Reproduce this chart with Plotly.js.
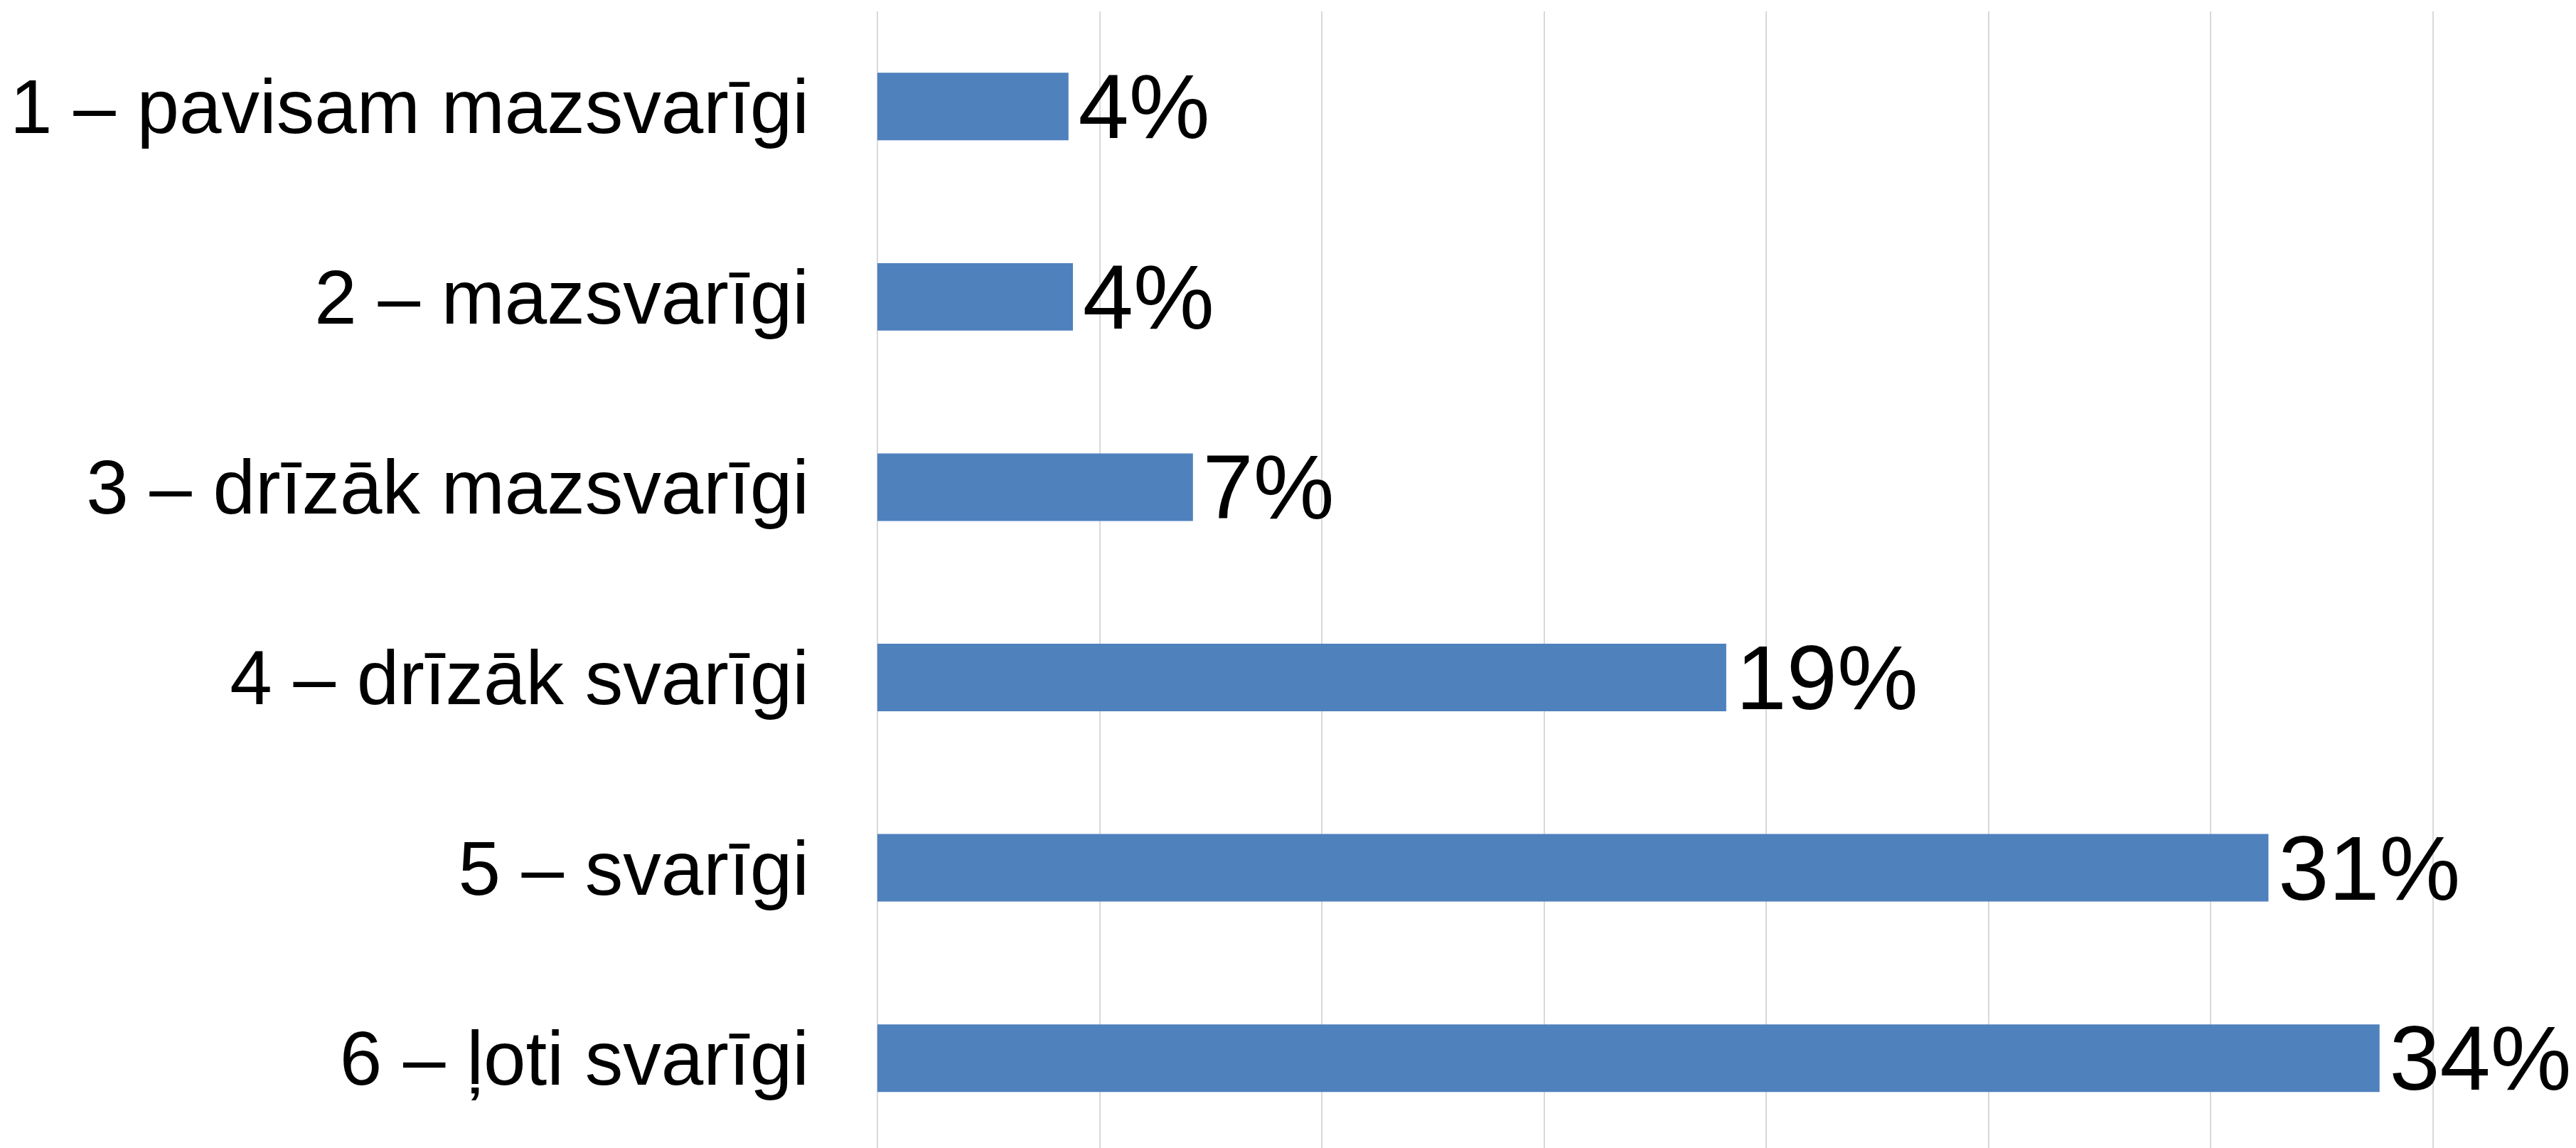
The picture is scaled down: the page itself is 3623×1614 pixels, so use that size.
<!DOCTYPE html>
<html>
<head>
<meta charset="utf-8">
<script src="https://cdn.plot.ly/plotly-3.0.1.min.js"></script>
<style>html,body{margin:0;padding:0;background:#fff;}#chart{width:3623px;height:1614px;}</style>
</head>
<body>
<div id="chart"></div>
<script>
const categories = [
  "1 – pavisam mazsvarīgi",
  "2 – mazsvarīgi",
  "3 – drīzāk mazsvarīgi",
  "4 – drīzāk svarīgi",
  "5 – svarīgi",
  "6 – ļoti svarīgi"
];
const values = [4.3, 4.4, 7.1, 19.1, 31.3, 33.8];
const valueLabels = ["4%", "4%", "7%", "19%", "31%", "34%"];

const trace = {
  type: "bar",
  orientation: "h",
  x: values,
  y: categories,
  text: valueLabels,
  texttemplate: "\u200a%{text}",
  textposition: "outside",
  constraintext: "none",
  cliponaxis: false,
  textfont: {family: "Liberation Sans, Arial, sans-serif", size: 128, color: "#000"},
  marker: {color: "#4f81bd"},
  hoverinfo: "skip"
};

const layout = {
  width: 3623,
  height: 1614,
  margin: {l: 1234, r: 0, t: 16, b: 0, pad: 0},
  paper_bgcolor: "#ffffff",
  plot_bgcolor: "#ffffff",
  showlegend: false,
  bargap: 0.645,
  xaxis: {
    range: [0, 38.22],
    dtick: 5,
    tick0: 0,
    showgrid: true,
    gridcolor: "#d9d9d9",
    gridwidth: 2,
    zeroline: true,
    zerolinecolor: "#d9d9d9",
    zerolinewidth: 2,
    showticklabels: false,
    showline: false,
    fixedrange: true
  },
  yaxis: {
    type: "category",
    range: [5.472, -0.5],
    showgrid: false,
    zeroline: false,
    showline: false,
    ticks: "",
    ticklabelstandoff: 95,
    tickfont: {family: "Liberation Sans, Arial, sans-serif", size: 107, color: "#000"},
    fixedrange: true
  },
  font: {family: "Liberation Sans, Arial, sans-serif", color: "#000"}
};

Plotly.newPlot("chart", [trace], layout, {staticPlot: true, displayModeBar: false});
</script>
</body>
</html>
